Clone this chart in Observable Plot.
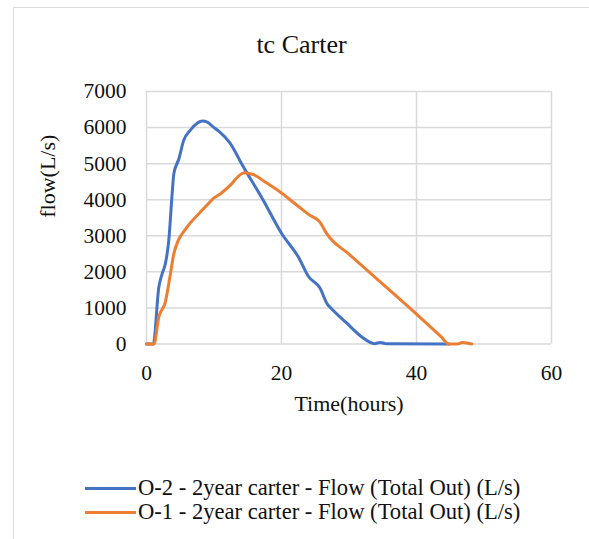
<!DOCTYPE html>
<html>
<head>
<meta charset="utf-8">
<script src="https://cdn.jsdelivr.net/npm/d3@7"></script>
<script src="https://cdn.jsdelivr.net/npm/@observablehq/plot@0.6"></script>
<style>
  html, body { margin: 0; padding: 0; background: #fff; overflow: hidden; width: 589px; height: 539px; }
  #frame { position: absolute; left: 13px; top: 7px; width: 700px; height: 700px; border: 1.5px solid #d9d9d9; box-sizing: border-box; }
  #title { position: absolute; left: 0; top: 32px; width: 603px; text-align: center; font-family: "Liberation Serif", serif; font-size: 26px; line-height: 26px; color: #111; }
  #chart { position: absolute; left: 0; top: 70px; }
  .leg { position: absolute; left: 85px; height: 24px; display: flex; align-items: center; font-family: "Liberation Serif", serif; font-size: 22.6px; color: #111; white-space: nowrap; }
  .leg .sw { width: 51px; height: 3px; margin-right: 2px; }
</style>
</head>
<body>
<div id="frame"></div>
<div id="title">tc Carter</div>
<div id="chart"></div>
<div id="legend"></div>
<script>
// ---- data ----
const seriesNames = [
  "O-2 - 2year carter - Flow (Total Out) (L/s)",
  "O-1 - 2year carter - Flow (Total Out) (L/s)"
];
const seriesColors = ["#4472C4", "#ED7D31"];

const hoursO2 = [0, 1.0, 1.83, 2.32, 2.8, 3.3, 3.8, 4.05, 4.8, 5.5, 6.5, 7.5, 8.3, 9.0, 10.0, 10.7, 12.35, 14.3, 17.25, 20, 22.6, 24.0, 25.7, 26.8, 27.3, 29.6, 31.8, 33.8, 34.6, 35.5, 44.8];
const flowO2  = [0, 0, 1578, 1950, 2230, 2870, 4170, 4720, 5135, 5640, 5930, 6120, 6180, 6150, 6000, 5900, 5575, 4925, 4000, 3070, 2380, 1870, 1550, 1100, 1000, 590, 210, 10, 45, 10, 0];

const hoursO1 = [0, 1.1, 1.83, 2.8, 3.55, 4.05, 6.0, 7.5, 9.0, 10.0, 11.0, 12.35, 14.1, 14.6, 15.3, 15.8, 17.5, 20, 22.2, 24.1, 25.6, 26.8, 30, 40, 43.6, 44.8, 46.0, 46.8, 47.5, 48.2];
const flowO1  = [0, 0, 750, 1170, 1950, 2500, 3240, 3560, 3860, 4050, 4170, 4390, 4720, 4750, 4720, 4700, 4500, 4185, 3860, 3580, 3400, 3030, 2490, 830, 210, 0, 0, 40, 30, 0];

const xTicks = [0, 20, 40, 60];
const yTicks = [0, 1000, 2000, 3000, 4000, 5000, 6000, 7000];
const xTitle = "Time(hours)";
const yTitle = "flow(L/s)";

// ---- build tables ----
const dataO2 = hoursO2.map((h, i) => ({h, f: flowO2[i]}));
const dataO1 = hoursO1.map((h, i) => ({h, f: flowO1[i]}));

const font = "Liberation Serif, Times New Roman, serif";
const chart = Plot.plot({
  width: 589,
  height: 350,
  marginLeft: 146,
  marginRight: 38,
  marginTop: 21,
  marginBottom: 76.5,
  x: {domain: [0, 60]},
  y: {domain: [0, 7000]},
  style: {fontFamily: font, fontSize: "21.5px", color: "#111", background: "transparent", overflow: "visible"},
  marks: [
    Plot.ruleY(yTicks, {stroke: "#d9d9d9", strokeWidth: 1.5}),
    Plot.ruleX(xTicks, {stroke: "#d9d9d9", strokeWidth: 1.5}),
    Plot.line(dataO2, {x: "h", y: "f", stroke: seriesColors[0], strokeWidth: 3, curve: "monotone-x", strokeLinejoin: "round", strokeLinecap: "round"}),
    Plot.line(dataO1, {x: "h", y: "f", stroke: seriesColors[1], strokeWidth: 3, curve: "monotone-x", strokeLinejoin: "round", strokeLinecap: "round"}),
    Plot.axisX({ticks: xTicks, tickSize: 0, tickPadding: 20.5, label: null, tickFormat: d => String(d)}),
    Plot.axisY({ticks: yTicks, tickSize: 0, tickPadding: 20, label: null, tickFormat: d => String(d)}),
    Plot.text([xTitle], {frameAnchor: "bottom", dy: 67, text: d => d, fontSize: 22}),
    Plot.text([yTitle], {frameAnchor: "left", dx: -99, rotate: -90, text: d => d, fontSize: 22})
  ]
});
document.getElementById("chart").appendChild(chart);

// ---- legend ----
const legendTops = [476, 500];
const legend = document.getElementById("legend");
seriesNames.forEach((name, i) => {
  const row = document.createElement("div");
  row.className = "leg";
  row.style.top = legendTops[i] + "px";
  const sw = document.createElement("span");
  sw.className = "sw";
  sw.style.background = seriesColors[i];
  const t = document.createElement("span");
  t.textContent = name;
  row.appendChild(sw);
  row.appendChild(t);
  legend.appendChild(row);
});
</script>
</body>
</html>
